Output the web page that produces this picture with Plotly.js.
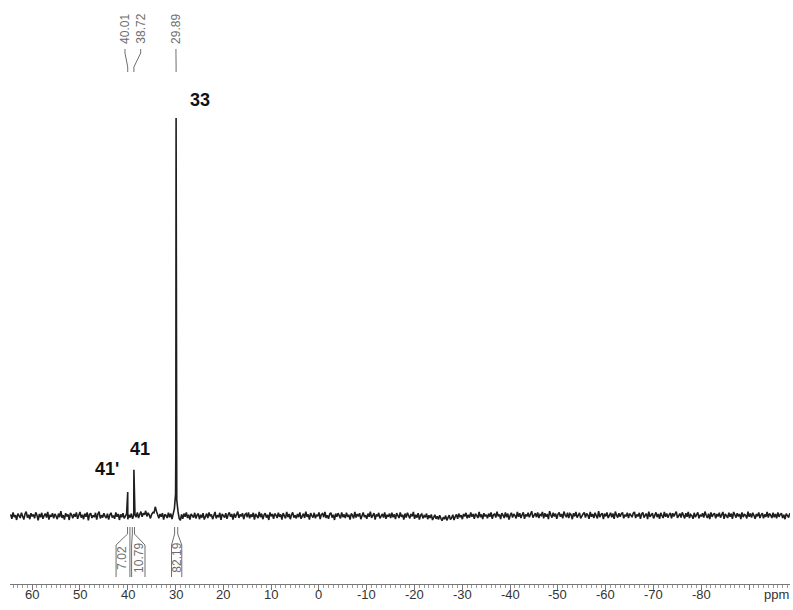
<!DOCTYPE html>
<html>
<head>
<meta charset="utf-8">
<script src="https://cdn.plot.ly/plotly-3.0.1.min.js"></script>
<style>
  html, body { margin: 0; padding: 0; background: #ffffff; }
  #chart { width: 793px; height: 610px; }
</style>
</head>
<body>
<div id="chart"></div>
<script>
// Spectrum: intensities sampled every 0.25 ppm, from 64.5 ppm down to -98.5 ppm
const startPpm = 64.5;
const stepPpm = 0.25;
const intensity = [
  // 64.5 .. 54.75
  0.4,-0.7,0.9,-0.3,0.2,-1.0,0.6,0.1,-0.5,0.8,-0.2,-0.9,0.5,1.1,-0.4,0.3,-0.8,0.7,-0.1,0.4,
  -0.6,0.9,0.2,-1.1,0.5,-0.3,0.8,-0.7,0.1,0.6,-0.4,1.0,-0.9,0.3,-0.2,0.7,-0.6,0.5,0.0,-0.8,
  // 54.5 .. 44.75
  0.6,-0.3,1.2,-0.5,0.2,-0.9,0.7,-0.1,0.4,-1.0,0.8,0.3,-0.6,0.5,-0.2,0.9,-0.7,0.1,1.0,-0.4,
  0.3,-0.8,0.6,-0.2,0.9,-1.1,0.4,0.7,-0.5,0.2,-0.3,0.8,-0.9,0.5,1.1,-0.6,0.2,-0.4,0.7,-0.1,
  // 44.5 .. 34.75
  -0.5,0.6,-0.9,0.3,0.8,-0.4,0.1,-0.7,0.9,-0.2,0.5,-1.0,0.4,-0.3,0.7,-0.6,0.2,0.5,-0.8,0.3,
  -0.4,0.6,-0.7,0.2,0.5,-0.3,0.9,-0.5,0.4,1.1,-0.2,0.7,0.3,1.3,-0.1,0.8,0.2,-0.6,0.4,0.9,
  // 34.5 .. 24.75
  0.8,2.3,1.2,0.3,-0.6,0.5,-0.2,0.7,-0.9,0.4,0.1,-0.5,0.8,-0.3,0.6,-0.8,0.2,1.8,5.5,4.0,
  1.2,-0.6,-1.1,0.4,-0.7,0.6,-0.2,0.9,-0.5,0.3,-0.9,0.5,0.1,-0.4,0.8,-0.6,0.2,0.6,-0.8,0.3,
  // 24.5 .. 14.75
  -0.4,0.7,-0.9,0.2,0.6,-0.5,0.9,-0.1,0.4,-0.8,0.3,1.0,-0.6,0.2,-0.3,0.8,-1.0,0.5,0.1,-0.4,
  0.7,-0.7,0.3,0.9,-0.2,0.5,-0.9,0.6,-0.4,0.2,1.1,-0.5,0.4,-0.1,0.7,-0.8,0.3,0.6,-0.3,0.9,
  // 14.5 .. 4.75
  -0.6,0.4,-0.2,0.8,-0.9,0.5,0.1,-0.5,1.0,-0.3,0.6,-0.8,0.2,0.7,-0.4,0.3,-1.0,0.9,-0.1,0.5,
  -0.7,0.6,0.2,-0.5,0.8,-0.2,0.4,-0.9,0.7,0.1,-0.6,1.0,-0.3,0.5,-0.8,0.3,0.9,-0.4,0.2,-0.6,
  // 4.5 .. -5.25
  0.5,-0.3,0.9,-0.7,0.2,0.6,-0.5,1.1,-0.2,0.4,-0.9,0.7,0.1,-0.4,0.8,-0.6,0.3,-0.1,0.9,-0.8,
  0.4,0.6,-0.3,1.0,-0.5,0.2,-0.7,0.5,0.8,-0.4,0.3,-1.0,0.6,-0.2,0.7,0.1,-0.6,0.9,-0.3,0.4,
  // -5.5 .. -15.25
  -0.5,0.8,-0.2,0.3,-0.9,0.6,0.2,-0.6,1.0,-0.4,0.5,-0.1,0.7,-0.8,0.4,0.9,-0.3,0.2,-0.7,0.6,
  -0.2,1.1,-0.5,0.3,0.7,-0.9,0.4,-0.1,0.8,-0.6,0.2,0.5,-0.4,0.9,-0.7,0.3,-0.2,0.6,-0.5,0.8,
  // -15.5 .. -25.25
  -0.3,0.4,-0.8,0.7,0.1,-0.5,0.9,-0.2,0.3,-0.9,0.6,-0.4,0.8,0.2,-0.6,0.5,-0.1,1.0,-0.7,0.3,
  -0.4,0.7,-0.9,0.2,0.5,-0.6,0.1,-0.3,0.6,-0.8,0.2,-0.5,0.4,-1.0,-0.2,0.3,-0.7,-0.1,-0.9,0.2,
  // -25.5 .. -35.25
  -0.6,-1.2,-0.3,-0.8,0.1,-1.1,-0.4,0.2,-0.9,-0.5,0.3,-1.0,-0.2,0.4,-0.7,0.6,-0.3,0.2,-0.8,0.5,
  -0.1,0.8,-0.6,0.3,-0.4,0.9,-0.2,0.5,-0.7,0.6,0.1,-0.5,1.0,-0.3,0.4,-0.8,0.7,-0.1,0.3,-0.6,
  // -35.5 .. -45.25
  0.6,-0.2,0.9,-0.7,0.3,0.5,-0.4,1.1,-0.1,0.4,-0.8,0.7,0.2,-0.5,0.9,-0.3,0.6,-0.9,0.2,0.8,
  -0.4,0.5,0.1,-0.6,1.0,-0.2,0.7,-0.5,0.3,0.9,-0.7,0.4,-0.1,0.8,-0.3,0.6,1.2,-0.4,0.2,0.7,
  // -45.5 .. -55.25
  -0.3,0.9,-0.5,0.4,0.1,1.0,-0.6,0.7,-0.2,0.5,-0.8,1.2,0.3,-0.4,0.8,-0.1,0.6,-0.7,0.4,0.9,
  -0.2,0.5,-0.6,1.1,0.2,-0.3,0.8,-0.5,0.6,0.3,-0.8,0.7,-0.1,1.0,-0.4,0.4,0.8,-0.6,0.2,0.5,
  // -55.5 .. -65.25
  0.9,-0.4,0.6,0.2,-0.7,1.0,-0.2,0.5,-0.5,0.8,0.1,-0.6,1.2,-0.3,0.4,0.7,-0.8,0.6,-0.1,0.9,
  -0.5,0.3,0.8,-0.3,0.6,-0.7,1.1,0.2,-0.4,0.7,-0.2,0.5,0.9,-0.6,0.3,-0.1,0.8,-0.5,0.6,0.2,
  // -65.5 .. -75.25
  -0.3,0.7,1.0,-0.5,0.4,-0.1,0.8,-0.7,0.5,0.9,-0.4,0.2,0.6,-0.8,1.1,-0.2,0.4,0.7,-0.6,0.3,
  0.9,-0.3,0.5,-0.7,0.8,0.1,-0.5,1.0,-0.2,0.6,-0.4,0.3,0.8,-0.6,0.7,-0.1,0.4,1.1,-0.5,0.2,
  // -75.5 .. -85.25
  0.6,-0.4,0.9,0.2,-0.6,0.7,-0.2,1.0,-0.5,0.4,0.1,-0.7,0.8,-0.3,0.5,0.9,-0.6,0.3,-0.1,0.7,
  -0.4,1.1,0.2,-0.5,0.6,-0.8,0.9,-0.2,0.4,0.7,-0.6,0.5,-0.1,0.8,-0.4,0.3,1.0,-0.7,0.5,0.1,
  // -85.5 .. -95.25
  -0.5,0.8,-0.2,0.6,-0.7,1.0,0.3,-0.4,0.7,-0.1,0.5,-0.8,0.9,-0.3,0.4,0.2,-0.6,1.1,-0.2,0.6,
  -0.4,0.8,0.1,-0.7,0.5,-0.1,0.9,-0.5,0.3,0.7,-0.6,0.4,-0.2,1.0,-0.4,0.6,0.2,-0.5,0.8,-0.3,
  // -95.5 .. -98.5
  0.5,-0.6,0.9,-0.2,0.4,0.7,-0.5,0.3,-0.8,0.6,0.1,-0.4,0.7
];

// Sharp line apexes, recorded at their exact shifts
const peakPpm = [40.01, 38.72, 29.95, 29.89, 29.83];
const peakIntensity = [6.0, 11.6, 16, 100, 13];

// Peak-pick labels
const shiftText = ['40.01', '38.72', '29.89'];
const shiftPpm = [40.01, 38.72, 29.89];

// Integrals (normalised to 100) and their ranges
const integralText = ['7.02', '10.79', '82.19'];
const integralFrom = [40.05, 39.05, 30.2];
const integralTo = [39.55, 38.6, 29.55];

// Compound assignments
const compoundText = ['33', '41', "41'"];

// Axis ticks
const tickVals = [60, 50, 40, 30, 20, 10, 0, -10, -20, -30, -40, -50, -60, -70, -80, -90];
const tickText = ['60', '50', '40', '30', '20', '10', '0', '-10', '-20', '-30', '-40', '-50', '-60', '-70', '-80', ''];

// ---- layout geometry (pixel rows converted to paper fractions) ----
const H = 610, MB = 26, PLOT_H = H - MB;
const py = p => (PLOT_H - p) / PLOT_H;
const shiftLabelPpm = [40.59, 37.3, 29.92];
const integralBox = [[42.45, 39.55], [39.2, 36.4], [30.85, 28.7]];
const integralLabelPpm = [41.28, 37.66, 29.77];
const compoundPos = [[24.9, 104.5], [37.45, 16.8], [44.35, 11.8]];
const FONT = 'Liberation Sans, Arial, Helvetica, sans-serif';

// merge the sampled trace with the apex points
const pts = intensity.map((v, i) => [startPpm - i * stepPpm, v]);
peakPpm.forEach((p, i) => pts.push([p, peakIntensity[i]]));
pts.sort((a, b) => b[0] - a[0]);

const trace = {
  type: 'scatter',
  mode: 'lines',
  x: pts.map(p => p[0]),
  y: pts.map(p => p[1]),
  line: { color: '#1e1e1e', width: 1.6 },
  hoverinfo: 'skip'
};

const grey = '#6e6e6e';
const shapes = [];
const annotations = [];

shiftPpm.forEach((p, i) => {
  const lx = shiftLabelPpm[i];
  shapes.push({
    type: 'path', xref: 'x', yref: 'paper',
    path: `M ${lx} ${py(49)} L ${lx} ${py(53)} L ${p} ${py(67)} L ${p} ${py(72)}`,
    line: { color: grey, width: 1 }
  });
  annotations.push({
    text: shiftText[i], x: lx, y: py(29), xref: 'x', yref: 'paper',
    textangle: -90, showarrow: false, xanchor: 'center', yanchor: 'middle',
    font: { family: FONT, size: 12, color: grey }
  });
});

integralText.forEach((t, i) => {
  const a = integralFrom[i], b = integralTo[i];
  const [bl, br] = integralBox[i];
  shapes.push({
    type: 'path', xref: 'x', yref: 'paper',
    path: `M ${a} ${py(527)} L ${a} ${py(534)} L ${bl} ${py(545)} L ${bl} ${py(577)}`,
    line: { color: grey, width: 1 }
  });
  shapes.push({
    type: 'path', xref: 'x', yref: 'paper',
    path: `M ${b} ${py(527)} L ${b} ${py(534)} L ${br} ${py(545)} L ${br} ${py(577)}`,
    line: { color: grey, width: 1 }
  });
  annotations.push({
    text: t, x: integralLabelPpm[i], y: py(558), xref: 'x', yref: 'paper',
    textangle: -90, showarrow: false, xanchor: 'center', yanchor: 'middle',
    font: { family: FONT, size: 12, color: grey }
  });
});

compoundText.forEach((t, i) => {
  annotations.push({
    text: '<b>' + t + '</b>', x: compoundPos[i][0], y: compoundPos[i][1],
    xref: 'x', yref: 'y', showarrow: false, xanchor: 'center', yanchor: 'middle',
    font: { family: FONT, size: 18, color: '#111' }
  });
});

// tick labels sit close under the scale, as on the spectrometer printout
tickVals.forEach((v, i) => {
  if (!tickText[i]) return;
  annotations.push({
    text: tickText[i], x: v, y: py(594), xref: 'x', yref: 'paper',
    showarrow: false, xanchor: 'center', yanchor: 'middle',
    font: { family: FONT, size: 13, color: '#333' }
  });
});
annotations.push({
  text: 'ppm', x: -95.8, y: py(594), xref: 'x', yref: 'paper',
  showarrow: false, xanchor: 'center', yanchor: 'middle',
  font: { family: FONT, size: 13, color: '#333' }
});

const layout = {
  width: 793, height: 610,
  margin: { l: 10, r: 3, t: 0, b: MB },
  paper_bgcolor: '#ffffff', plot_bgcolor: '#ffffff',
  showlegend: false,
  xaxis: {
    range: [64.64, -98.54],
    tickmode: 'array', tickvals: tickVals, showticklabels: false,
    ticks: 'outside', ticklen: 5, tickwidth: 1, tickcolor: '#777',
    showline: true, linecolor: '#777', linewidth: 1,
    minor: { tickmode: 'linear', tick0: 0, dtick: 1, ticks: 'outside', ticklen: 3, tickcolor: '#999', tickwidth: 1 },
    showgrid: false, zeroline: false,
    fixedrange: true
  },
  yaxis: {
    range: [-17.09, 129.65], visible: false, fixedrange: true,
    showgrid: false, zeroline: false
  },
  shapes: shapes,
  annotations: annotations
};

Plotly.newPlot('chart', [trace], layout, { displayModeBar: false, staticPlot: true });
</script>
</body>
</html>
